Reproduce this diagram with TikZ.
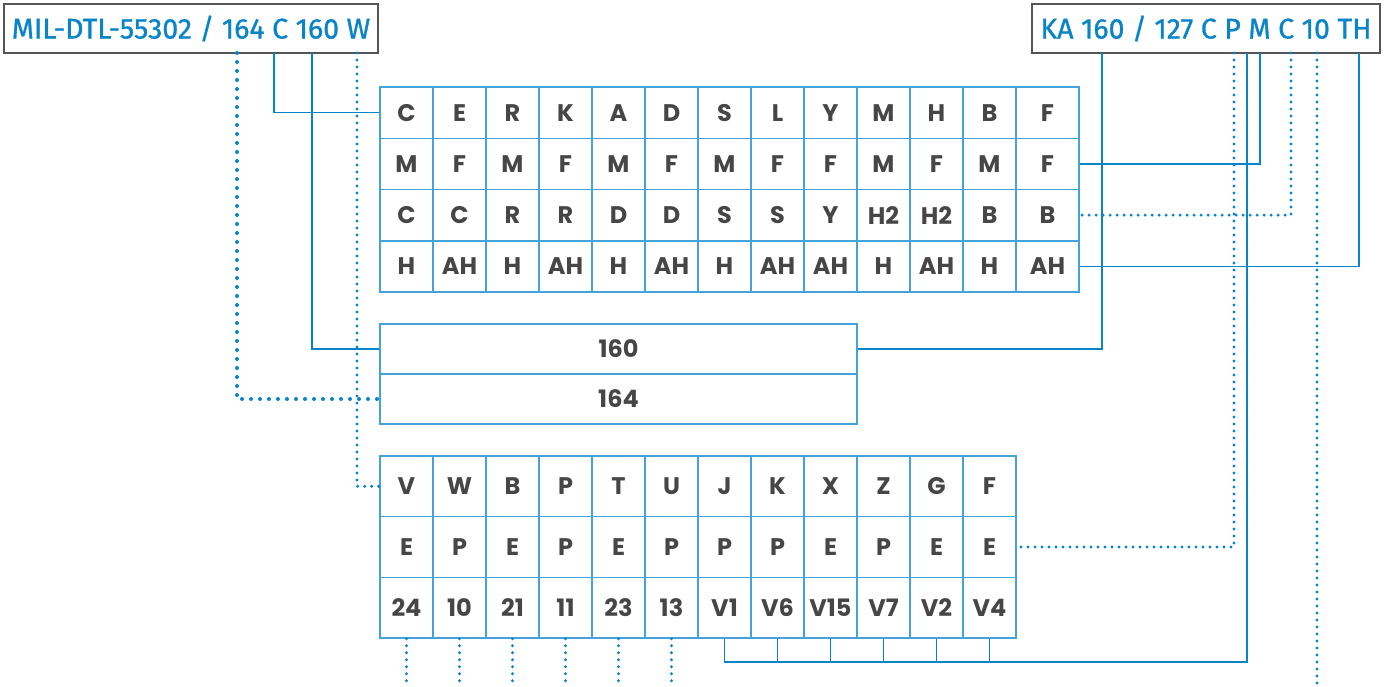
\documentclass[tikz,border=0pt]{standalone}
\usepackage{fontspec}
\setmainfont{Poppins}
\newfontfamily\labelfont{Fira Sans}[FakeBold=1]
\usepackage{xcolor}

\definecolor{linkblue}{HTML}{0A84C8}
\definecolor{gridblue}{HTML}{45A3DC}
\definecolor{cellgray}{HTML}{464646}
\definecolor{boxgray}{HTML}{555555}

\tikzset{
  cell/.style={draw=gridblue,line width=1.5pt,minimum width=53pt,inner sep=0pt,
    text=cellgray,font=\fontsize{24}{24}\selectfont\bfseries},
  codebox/.style={draw=boxgray,line width=1.5pt,minimum height=49pt,inner sep=0pt,
    text=linkblue,font=\labelfont\fontsize{28.5}{28.5}\selectfont},
  thinlink/.style={linkblue,line width=1.3pt},
  thicklink/.style={linkblue,line width=2.6pt},
  dotlink/.style={linkblue,line width=3.4pt,line cap=round,dash pattern=on 0pt off 7pt},
  bigdots/.style={linkblue,line width=4pt,line cap=round,dash pattern=on 0pt off 9pt}
}

\begin{document}
\begin{tikzpicture}[x=1pt,y=-1pt]
  \useasboundingbox (0,0) rectangle (1385,686);

  % part numbers
  \node[codebox,minimum width=374pt] (lbl-l) at (191,28.5) {MIL-DTL-55302 / 164 C 160 W};
  \node[codebox,minimum width=348pt] (lbl-r) at (1206,28.5) {KA 160 / 127 C P M C 10 TH};

  % upper table
  \foreach \row [count=\r] in {{C,E,R,K,A,D,S,L,Y,M,H,B,F},
      {M,F,M,F,M,F,M,F,F,M,F,M,F},
      {C,C,R,R,D,D,S,S,Y,H2,H2,B,B},
      {H,AH,H,AH,H,AH,H,AH,AH,H,AH,H,AH}}
    \foreach \t [count=\c] in \row {
      \pgfmathsetmacro\w{ifthenelse(\c==13,63,53)}
      \node[cell,minimum width=\w pt,minimum height=51.25pt] (t-\r-\c)
        at ({380+53*(\c-1)+\w/2},{87+51.25*(\r-1)+25.625}) {\t};
    }

  % size table
  \node[cell,minimum width=477pt,minimum height=50pt] (m1) at (618.5,349) {160};
  \node[cell,minimum width=477pt,minimum height=50pt] (m2) at (618.5,399) {164};

  % lower table
  \foreach \row [count=\r] in {{V,W,B,P,T,U,J,K,X,Z,G,F},
      {E,P,E,P,E,P,P,P,E,P,E,E},
      {24,10,21,11,23,13,V1,V6,V15,V7,V2,V4}}
    \foreach \t [count=\c] in \row
      \node[cell,minimum height=60.67pt] (b-\r-\c)
        at ({406.5+53*(\c-1)},{486.3+60.67*(\r-1)}) {\t};

  % taps under the part numbers
  \coordinate (l-164) at (237,53);
  \coordinate (l-C)   at (274,53);
  \coordinate (l-160) at (312,53);
  \coordinate (l-W)   at (357,53);
  \coordinate (r-160) at (1102,53);
  \coordinate (r-C)   at (1234,53);
  \coordinate (r-P)   at (1247,53);
  \coordinate (r-M)   at (1260,53);
  \coordinate (r-Ct)  at (1291,53);
  \coordinate (r-10)  at (1317,53);
  \coordinate (r-TH)  at (1359,53);
  \coordinate (bus)   at (0,662);
  \coordinate (floor) at (0,686);

  \draw[bigdots] (l-164) |- (m2.west);
  \draw[thinlink] (l-C) |- (t-1-1.west);
  \draw[thicklink] (l-160) |- (m1.west);
  \draw[dotlink] (l-W) |- (b-1-1.west);

  \draw[thicklink] (r-160) |- (m1.east);
  \draw[dotlink] (r-C) |- (b-2-12.east);
  \draw[thinlink] (r-P) |- (b-3-7.south |- bus) -- (b-3-7.south);
  \foreach \c in {8,...,12}
    \draw[thinlink] (b-3-\c.south) -- (b-3-\c.south |- bus);
  \draw[thicklink] (r-M) |- (t-2-13.east);
  \draw[dotlink] (r-Ct) |- (t-3-13.east);
  \draw[dotlink] (r-10) -- (r-10 |- floor);
  \draw[thinlink] (r-TH) |- (t-4-13.east);

  \foreach \c in {1,...,6}
    \draw[dotlink] (b-3-\c.south) -- (b-3-\c.south |- floor);
\end{tikzpicture}
\end{document}
